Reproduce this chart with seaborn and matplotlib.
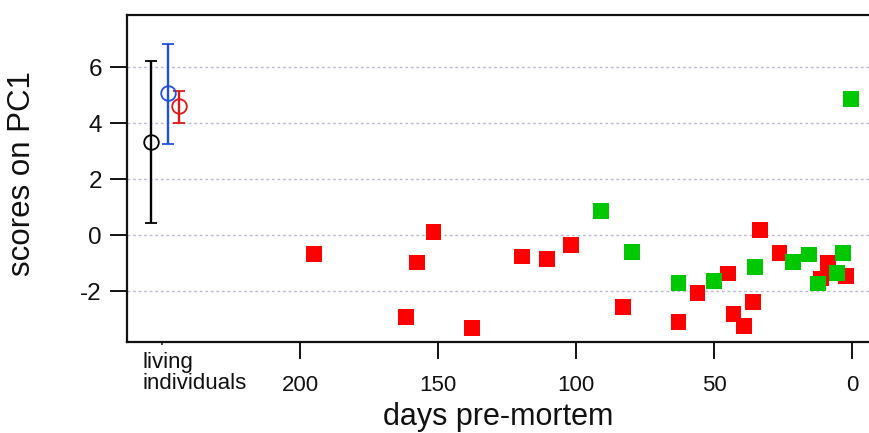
import numpy as np
import pandas as pd
import seaborn as sns
import matplotlib.pyplot as plt
from matplotlib.ticker import FixedLocator

# squares: days pre-mortem vs PC1 score
red_days = [195, 161.6, 157.5, 151.7, 137.6, 119.7, 110.6, 101.8, 83.1, 62.9,
            56, 45, 43, 39.1, 36, 33.3, 26.3, 11.2, 8.6, 2.3]
red_scores = [-0.67, -2.92, -0.98, 0.10, -3.33, -0.77, -0.86, -0.36, -2.58, -3.10,
              -2.06, -1.37, -2.82, -3.24, -2.38, 0.18, -0.63, -1.55, -0.99, -1.46]
green_days = [90.9, 79.8, 62.9, 50, 35.1, 21.3, 15.5, 12.4, 5.5, 3.4, 0.4]
green_scores = [0.87, -0.60, -1.70, -1.64, -1.13, -0.95, -0.69, -1.73, -1.35, -0.65, 4.85]

# living individuals: mean with range (plotted left of 200 days)
living_x = [254, 248, 244]
living_mean = [3.31, 5.06, 4.61]
living_low = [0.44, 3.25, 4.01]
living_high = [6.23, 6.82, 5.15]
living_colors = ['black', '#2050e0', '#e01818']

x_ticks = [200, 150, 100, 50, 0]
y_ticks = [-2, 0, 2, 4, 6]

df = pd.DataFrame({
    'days': red_days + green_days,
    'score': red_scores + green_scores,
    'group': ['red'] * len(red_days) + ['green'] * len(green_days),
})

sns.set_theme(style='white')
plt.rcParams['font.family'] = ['Liberation Sans', 'DejaVu Sans']
plt.rcParams['axes.unicode_minus'] = False

fig = plt.figure(figsize=(8.7, 4.33), dpi=100)
ax = fig.add_axes([127 / 870, 1 - 342 / 433, 1 - 127 / 870, (342 - 15) / 433])

for y in y_ticks:
    ax.axhline(y, color='#b8bccc', lw=1, ls=(0, (2, 2)), zorder=0)

sns.scatterplot(data=df, x='days', y='score', hue='group',
                palette={'red': '#ff0000', 'green': '#00c800'},
                marker='s', s=128, linewidth=0, legend=False, ax=ax, zorder=3)

for x, m, lo, hi, c in zip(living_x, living_mean, living_low, living_high, living_colors):
    ax.errorbar([x], [m], yerr=[[m - lo], [hi - m]], fmt='o', mfc='none', mec=c,
                ecolor=c, ms=10.5, mew=1.3, elinewidth=1.7, capsize=4.5, capthick=1.7,
                zorder=4)

ax.set_xlim(262.7, -6.5)
ax.set_ylim(-3.82, 7.86)

ax.set_xticks(x_ticks)
ax.set_xticklabels([str(t) for t in x_ticks])
ax.xaxis.set_minor_locator(FixedLocator([250]))
ax.set_yticks(y_ticks)

ax.tick_params(axis='x', which='major', direction='out', length=12, width=1.4,
               pad=12, labelsize=16, colors='#111111')
ax.tick_params(axis='x', which='minor', direction='out', length=2, width=1.2)
ax.tick_params(axis='y', direction='out', length=12, width=1.4, pad=6,
               labelsize=17.5, colors='#111111')
ax.tick_params(bottom=True, left=True, which='both')

for side in ['left', 'bottom', 'top']:
    ax.spines[side].set_linewidth(1.6)
    ax.spines[side].set_color('#111111')
ax.spines['right'].set_visible(False)

ax.text(257, -0.03, 'living\nindividuals', transform=ax.get_xaxis_transform(),
        ha='left', va='top', fontsize=16, linespacing=1.0, color='#111111')

ax.set_xlabel('days pre-mortem', fontsize=22, labelpad=4, color='#111111')
ax.set_ylabel('scores on PC1', fontsize=22.5, color='#111111')
ax.yaxis.set_label_coords(-0.121, 0.515)

fig.savefig('out.png', dpi=100)
